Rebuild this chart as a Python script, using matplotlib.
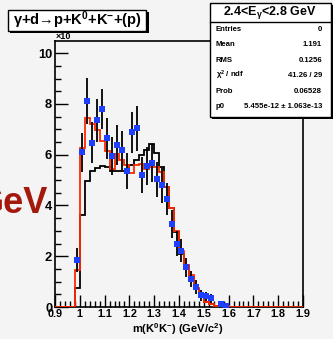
import numpy as np
import matplotlib
matplotlib.use("Agg")
import matplotlib.pyplot as plt
from matplotlib.patches import Rectangle
from matplotlib.ticker import MultipleLocator

plt.rcParams['font.family'] = ['Liberation Sans', 'DejaVu Sans']
plt.rcParams['font.weight'] = 'bold'
plt.rcParams['mathtext.fontset'] = 'custom'
plt.rcParams['mathtext.rm'] = 'Liberation Sans:bold'
plt.rcParams['mathtext.it'] = 'Liberation Sans:bold'
plt.rcParams['mathtext.bf'] = 'Liberation Sans:bold'
plt.rcParams['mathtext.default'] = 'bf'

W, H = 333, 339

# histogram bins 0.90 .. 1.90, width 0.02
hist_edges = np.linspace(0.9, 1.9, 51)
sim_red = [0] * 4 + [1.46, 6.27, 7.43, 7.2, 6.97, 6.55, 6.15, 5.42, 6.02, 5.79,
                     5.59, 5.26, 5.6, 5.65, 5.42, 5.52, 5.5, 5.3, 4.74, 3.89,
                     3.0, 2.2, 1.65, 1.25, 0.75, 0.42, 0.2, 0.1, 0.05, 0.03,
                     0.02] + [0] * 15
sim_black = [0] * 4 + [0.75, 3.62, 4.96, 5.37, 5.46, 5.56, 5.5, 5.37, 5.37, 5.37,
                       5.37, 5.6, 5.8, 5.98, 6.18, 6.42, 6.05, 5.5, 4.74, 3.89,
                       2.95, 2.1, 1.6, 1.2, 0.7, 0.38, 0.2, 0.1, 0.05, 0.03,
                       0.02] + [0] * 15

# measured points (units of 10^3)
data_mass = [0.99, 1.01, 1.03, 1.05, 1.07, 1.09, 1.11, 1.13, 1.15, 1.17,
             1.19, 1.21, 1.23, 1.25, 1.27, 1.29, 1.31, 1.33, 1.35, 1.37,
             1.39, 1.41, 1.43, 1.45, 1.47, 1.49, 1.51, 1.53, 1.57, 1.59]
data_counts = [1.85, 6.09, 8.12, 6.47, 7.36, 7.8, 6.64, 5.94, 6.38, 6.17,
               5.35, 6.88, 7.04, 5.2, 5.56, 5.68, 5.03, 4.79, 4.25, 3.27,
               2.5, 2.22, 1.56, 1.1, 0.78, 0.46, 0.42, 0.34, 0.12, 0.05]
data_err = [0.46, 0.77, 0.9, 0.8, 0.85, 0.8, 0.8, 0.75, 0.8, 0.78,
            0.7, 0.82, 0.88, 0.7, 0.74, 0.75, 0.7, 0.68, 0.62, 0.55,
            0.48, 0.45, 0.38, 0.32, 0.27, 0.21, 0.19, 0.17, 0.1, 0.05]

x_ticks = [0.9, 1.0, 1.1, 1.2, 1.3, 1.4, 1.5, 1.6, 1.7, 1.8, 1.9]
x_labels = ['0.9', '1', '1.1', '1.2', '1.3', '1.4', '1.5', '1.6', '1.7', '1.8', '1.9']
y_ticks = [0, 2, 4, 6, 8, 10]

stat_rows = [('Entries', '0'), ('Mean', '1.191'), ('RMS', '0.1256'),
             (r'$\chi^2$ / ndf', '41.26 / 29'), ('Prob', '0.06528'),
             ('p0', u'5.455e-12 \u00b1 1.063e-13')]


def fx(px):
    return px / W


def fy(py):
    return 1 - py / H


bg = '#f4f4f4'
fig = plt.figure(figsize=(W / 100, H / 100), dpi=100, facecolor=bg)
ax = fig.add_axes([fx(55), fy(307), fx(303) - fx(55), fy(41) - fy(307)], facecolor=bg)

ax.stairs(sim_black, hist_edges, color='black', lw=1.3, zorder=2)
ax.stairs(sim_red, hist_edges, color='#ff2a00', lw=1.3, zorder=3)
ax.errorbar(data_mass, data_counts, yerr=data_err, fmt='s', color='#1f3fff',
            ecolor='black', elinewidth=1.3, capsize=0, ms=4.4, mew=0, zorder=4)

ax.set_xlim(0.9, 1.9)
ax.set_ylim(0, 10.48)
ax.set_xticks(x_ticks)
ax.set_xticklabels(x_labels)
ax.set_yticks(y_ticks)
ax.xaxis.set_minor_locator(MultipleLocator(0.02))
ax.yaxis.set_minor_locator(MultipleLocator(0.5))
ax.tick_params(which='both', direction='in', top=False, right=False, width=1)
ax.tick_params(which='major', length=9)
ax.tick_params(which='minor', length=4.5)
ax.tick_params(axis='x', labelsize=7.8, pad=1.5)
ax.tick_params(axis='y', labelsize=9.3, pad=2)
for lab in ax.get_xticklabels() + ax.get_yticklabels():
    lab.set_fontweight('bold')
for sp in ax.spines.values():
    sp.set_linewidth(1.2)

fig.text(fx(178), fy(329), r'm(K$^0$K$^{-}$) (GeV/c$^2$)', ha='center', va='center',
         fontsize=8, fontweight='bold')
fig.text(fx(56), fy(36.5), u'\u00d710', ha='left', va='center', fontsize=6.5, zorder=1)

# big label at the left edge
fig.text(fx(48), fy(213), 'GeV', ha='right', va='baseline', fontsize=26,
         fontweight='bold', color='#a3190c',
         family=['Liberation Sans Narrow', 'Liberation Sans'])

# title box
fig.add_artist(Rectangle((fx(10), fy(33)), fx(148.5) - fx(10), fy(12) - fy(33),
                         transform=fig.transFigure, facecolor='black', edgecolor='none', zorder=5))
fig.add_artist(Rectangle((fx(8), fy(31)), fx(146) - fx(8), fy(10) - fy(31),
                         transform=fig.transFigure, facecolor='white', edgecolor='black',
                         lw=1, zorder=6))
fig.text(fx(77), fy(20.5), u'\u03b3+d\u2192p+K$^{0}$+K$^{-}$+(p)', ha='center',
         va='center', fontsize=10.5, fontweight='bold', zorder=7)

# stats box
fig.add_artist(Rectangle((fx(212), fy(119)), fx(334) - fx(212), fy(5) - fy(119),
                         transform=fig.transFigure, facecolor='black', edgecolor='none', zorder=5))
fig.add_artist(Rectangle((fx(210), fy(117)), fx(331) - fx(210), fy(3) - fy(117),
                         transform=fig.transFigure, facecolor='white', edgecolor='black',
                         lw=1, zorder=6))
fig.add_artist(plt.Line2D([fx(210), fx(331)], [fy(22), fy(22)], transform=fig.transFigure,
                          color='black', lw=1, zorder=7))
fig.text(fx(270), fy(12.5), r'2.4<E$_{\gamma}$<2.8 GeV', ha='center', va='center',
         fontsize=9, fontweight='bold', zorder=7)
for i, (name, val) in enumerate(stat_rows):
    yy = fy(29.5 + i * 15.4)
    fig.text(fx(216), yy, name, ha='left', va='center', fontsize=5.6,
             fontweight='bold', zorder=7)
    fig.text(fx(322), yy, val, ha='right', va='center', fontsize=5.6,
             fontweight='bold', zorder=7)

fig.savefig('out.png', dpi=100, facecolor=bg)
